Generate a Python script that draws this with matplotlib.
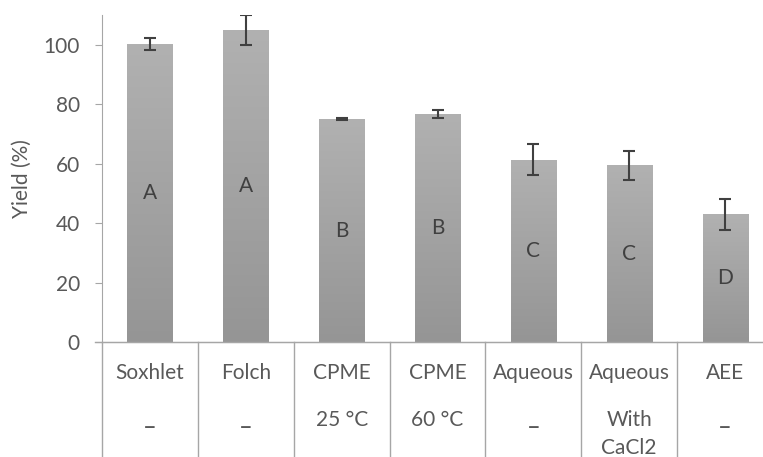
"""Extraction yield by method, grey gradient bars with grouping letters."""

import numpy as np
import matplotlib
matplotlib.use("Agg")
import matplotlib.pyplot as plt

# ---------------------------------------------------------------------------
# Data
# ---------------------------------------------------------------------------
methods = ["Soxhlet", "Folch", "CPME", "CPME", "Aqueous", "Aqueous", "AEE"]
conditions = ["–", "–", "25 °C", "60 °C", "–", "With\nCaCl2", "–"]
yields = [100.2, 105.0, 75.0, 76.7, 61.3, 59.4, 42.9]
errors = [1.9, 5.1, 0.4, 1.5, 5.2, 4.9, 5.2]
groups = ["A", "A", "B", "B", "C", "C", "D"]
yticks = [0, 20, 40, 60, 80, 100]

TEXT = "#595959"
DARK = "#404040"
LINE = "#a6a6a6"

plt.rcParams["font.family"] = ["Lato", "DejaVu Sans"]

W, H = 763, 457
fig = plt.figure(figsize=(W / 100, H / 100), dpi=100)
# axes box in pixels: left 102, right 773 (clipped), top 15, bottom 342
left, right, top, bottom = 102, 773, 15, 342
ax = fig.add_axes([left / W, (H - bottom) / H, (right - left) / W, (bottom - top) / H])

x = np.arange(len(methods))
bars = ax.bar(x, yields, width=0.47, color="none", edgecolor="none", zorder=2)

# vertical grey gradient inside each bar
grad = np.linspace(0, 1, 256).reshape(-1, 1)
cmap = matplotlib.colors.LinearSegmentedColormap.from_list("g", ["#959595", "#b1b1b1"])
for b in bars:
    x0, y0 = b.get_x(), b.get_y()
    im = ax.imshow(grad, cmap=cmap, origin="lower", aspect="auto",
                   extent=[x0, x0 + b.get_width(), y0, y0 + b.get_height()], zorder=2)
    im.set_clip_path(b)

ax.errorbar(x, yields, yerr=errors, fmt="none", ecolor=DARK, elinewidth=1.5,
            capsize=4.5, capthick=1.5, zorder=3)

for xi, v, g in zip(x, yields, groups):
    ax.text(xi, v / 2, g, ha="center", va="center", fontsize=15, color=DARK, zorder=4)

ax.set_xlim(-0.5, len(methods) - 0.5)
ax.set_ylim(0, 110)
ax.set_yticks(yticks)
ax.tick_params(axis="y", length=5, color=LINE, labelcolor=TEXT, labelsize=15, pad=11)
ax.set_xticks([])
ax.set_ylabel("Yield (%)", fontsize=15, color=TEXT, labelpad=8)

for side in ("top", "right"):
    ax.spines[side].set_visible(False)
ax.spines["left"].set_color(LINE)
ax.spines["bottom"].set_color(LINE)

# two-level category axis below the plot
trans = ax.get_xaxis_transform()
span = bottom - top
def frac(py):
    return (bottom - py) / span

for xi, m, c in zip(x, methods, conditions):
    ax.text(xi, frac(373), m, transform=trans, ha="center", va="center",
            fontsize=15, color=TEXT, clip_on=False)
    if c == "–":
        ax.text(xi, frac(427), c, transform=trans, ha="center", va="center",
                fontsize=17, color=TEXT, family="DejaVu Sans", clip_on=False)
    else:
        cy = 434 if "\n" in c else 420
        ax.text(xi, frac(cy), c, transform=trans, ha="center", va="center",
                fontsize=15, color=TEXT, linespacing=1.45, clip_on=False)

for xb in np.arange(len(methods) + 1) - 0.5:
    ax.plot([xb, xb], [0, frac(H + 5)], transform=trans, color=LINE, lw=1,
            clip_on=False)
ax.plot([-0.5 - 0.07, len(methods) - 0.5], [0, 0], transform=trans, color=LINE,
        lw=1, clip_on=False)

fig.savefig("out.png", dpi=100)
